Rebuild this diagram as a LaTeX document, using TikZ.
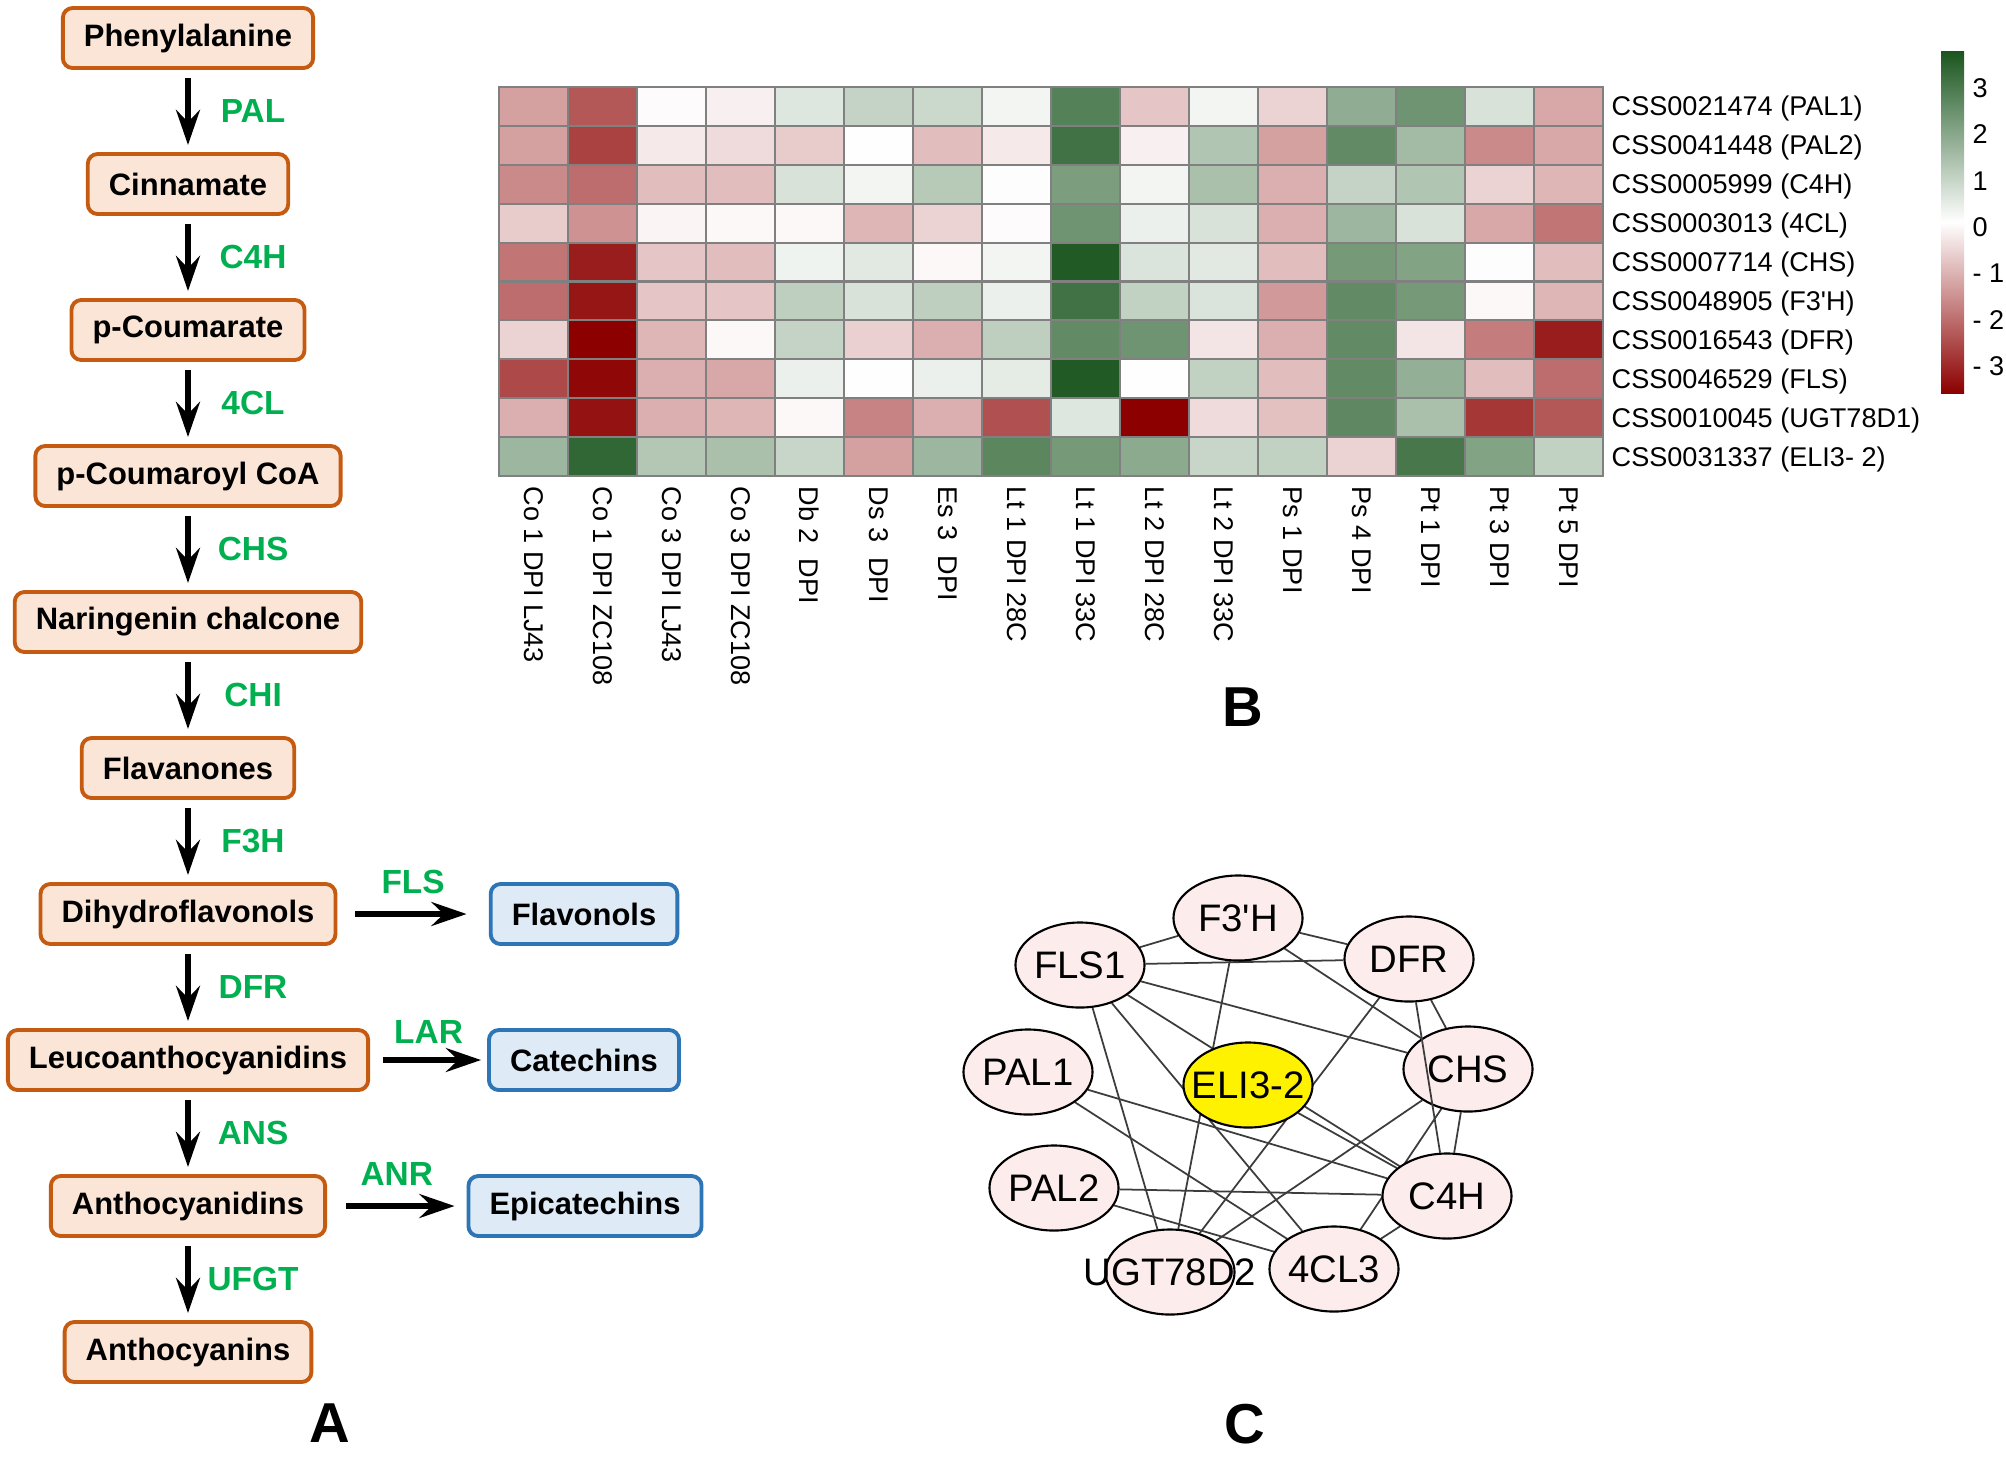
\documentclass[tikz,border=0pt]{standalone}
\usepackage{fontspec}
\setmainfont{Liberation Sans}
\usetikzlibrary{arrows.meta,shapes.geometric,backgrounds}
\definecolor{boxline}{RGB}{197,90,17}
\definecolor{boxfill}{RGB}{251,229,214}
\definecolor{endline}{RGB}{46,117,182}
\definecolor{endfill}{RGB}{222,235,247}
\definecolor{enzgreen}{RGB}{0,176,80}
\definecolor{hmgreen}{RGB}{26,85,30}
\definecolor{hmred}{RGB}{140,0,0}
\definecolor{gridgray}{RGB}{128,128,128}
\definecolor{genefill}{RGB}{252,236,236}
\definecolor{linkgray}{RGB}{60,60,60}

\begin{document}
\begin{tikzpicture}[x=0.01cm, y=-0.01cm,
    compound/.style={draw=boxline, fill=boxfill, line width=1.1pt, rounded corners=2.8pt,
        minimum height=0.6cm, inner xsep=6pt, font=\fontsize{8.8}{10}\selectfont\bfseries},
    product/.style={compound, draw=endline, fill=endfill},
    flow/.style={line width=1.6pt, -{Stealth[length=10pt, width=6.8pt, inset=3.5pt]}},
    enz/.style={text=enzgreen, inner sep=0pt, font=\fontsize{9.5}{11}\selectfont\bfseries},
    cell/.style={draw=gridgray, line width=0.6pt},
    heat/.style={inner sep=0pt, font=\fontsize{7.7}{9}\selectfont},
    gene/.style={ellipse, draw, line width=0.6pt, fill=genefill, inner sep=0pt,
        minimum width=1.29cm, minimum height=0.85cm, font=\fontsize{10.9}{12}\selectfont},
    link/.style={draw=linkgray, line width=0.5pt},
    panel/.style={font=\fontsize{16}{18}\selectfont\bfseries}]
\useasboundingbox (0,0) rectangle (2006,1456);
\begin{pgfonlayer}{background}
    \fill[white] (0,0) rectangle (2006,1456);
\end{pgfonlayer}

% Pathway
\foreach \name/\txt [count=\i from 0] in {phe/Phenylalanine, cin/Cinnamate, pcm/p-Coumarate,
        pcoa/p-Coumaroyl CoA, nar/Naringenin chalcone, flv/Flavanones, dhf/Dihydroflavonols,
        leu/Leucoanthocyanidins, acy/Anthocyanidins, acn/Anthocyanins}
    \node[compound] (\name) at (188, 38+146*\i) {\txt};
\foreach \a/\b/\enzyme in {phe/cin/PAL, cin/pcm/C4H, pcm/pcoa/4CL, pcoa/nar/CHS, nar/flv/CHI,
        flv/dhf/F3H, dhf/leu/DFR, leu/acy/ANS, acy/acn/UFGT}
    \draw[flow, shorten <=2.3pt, shorten >=2pt] (\a) -- node[enz, xshift=0.65cm] {\enzyme} (\b);

% Side branches
\node[product] (fol) at (584, 914) {Flavonols};
\node[product] (cat) at (584, 1060) {Catechins};
\node[product] (epi) at (585, 1206) {Epicatechins};
\draw[flow, shorten <=5.1pt, shorten >=6.3pt] (dhf) -- node[enz, above=5pt] {FLS} (fol);
\draw[flow, shorten <=3.6pt, shorten >=1.7pt] (leu) -- node[enz, above=4pt] {LAR} (cat);
\draw[flow, shorten <=5.5pt, shorten >=3.4pt] (acy) -- node[enz, above=5pt] {ANR} (epi);

% Heatmap
\foreach \row [count=\r] in {
        {-1.3,-2.3,-0.05,-0.2,0.5,0.9,0.8,0.2,2.6,-0.8,0.2,-0.6,1.7,2.2,0.6,-1.2},
        {-1.3,-2.6,-0.3,-0.5,-0.7,0.02,-0.9,-0.3,2.9,-0.2,1.2,-1.3,2.4,1.4,-1.6,-1.2},
        {-1.6,-2.0,-0.9,-0.9,0.6,0.2,1.1,0.05,2.0,0.2,1.3,-1.1,0.9,1.2,-0.6,-1.0},
        {-0.7,-1.5,-0.15,-0.1,-0.1,-1.0,-0.6,-0.05,2.2,0.3,0.6,-1.1,1.5,0.6,-1.2,-1.9},
        {-1.9,-3.1,-0.8,-0.9,0.25,0.45,-0.1,0.2,3.4,0.55,0.45,-0.9,2.1,1.9,0.05,-0.9},
        {-2.0,-3.2,-0.8,-0.8,1.0,0.6,1.0,0.3,2.9,0.95,0.55,-1.4,2.4,2.1,-0.1,-1.0},
        {-0.6,-3.5,-1.0,-0.1,0.9,-0.65,-1.1,1.0,2.4,2.2,-0.35,-1.1,2.4,-0.35,-1.8,-3.1},
        {-2.5,-3.4,-1.1,-1.2,0.3,0.03,0.3,0.4,3.4,0.02,0.95,-0.9,2.4,1.65,-0.9,-2.0},
        {-1.1,-3.25,-1.1,-1.0,-0.1,-1.7,-1.1,-2.4,0.5,-3.5,-0.5,-0.85,2.45,1.3,-2.75,-2.3},
        {1.5,3.15,1.15,1.3,0.85,-1.3,1.5,2.5,2.1,1.75,0.85,0.95,-0.6,2.8,1.9,0.95}} {
    \foreach \v [count=\c] in \row {
        \pgfmathsetmacro\pct{min(100,abs(\v)*100/3.5)}
        \ifdim\v pt<0pt \def\hue{hmred}\else\def\hue{hmgreen}\fi
        \draw[cell, fill=\hue!\pct!white] (430+69*\c, 48.1+38.9*\r) rectangle +(69,38.9);
    }
}
\foreach \lab [count=\r] in {CSS0021474 (PAL1), CSS0041448 (PAL2), CSS0005999 (C4H),
        CSS0003013 (4CL), CSS0007714 (CHS), CSS0048905 (F3\textquotesingle H),
        CSS0016543 (DFR), CSS0046529 (FLS), CSS0010045 (UGT78D1), CSS0031337 (ELI3- 2)}
    \node[heat, anchor=base west] (gene\r) at (1611, 77+38.9*\r) {\lab};
\foreach \lab [count=\c] in {Co 1 DPI LJ43, Co 1 DPI ZC108, Co 3 DPI LJ43, Co 3 DPI ZC108,
        Db 2\ \ DPI, Ds 3\ \ DPI, Es 3\ \ DPI, Lt 1 DPI 28C, Lt 1 DPI 33C, Lt 2 DPI 28C,
        Lt 2 DPI 33C, Ps 1 DPI, Ps 4 DPI, Pt 1 DPI, Pt 3 DPI, Pt 5 DPI}
    \node[heat, rotate=-90, anchor=west] (sample\c) at (464.5+69*\c, 486) {\lab};
% Colour key
\shade[top color=hmgreen, bottom color=hmred, middle color=white] (1941,51) rectangle (1964,393);
\foreach \t [count=\k] in {3, 2, 1, 0, - 1, - 2, - 3}
    \node[heat, anchor=base west] (key\k) at (1972, 51.2+46.3*\k) {\t};

% Network
\foreach \name/\txt/\px/\py in {f3h/F3\textquotesingle H/1238/918, fls/FLS1/1080/965,
        dfr/DFR/1409/959, pal1/PAL1/1028/1072, chs/CHS/1468/1069, pal2/PAL2/1054/1188,
        c4h/C4H/1447/1196, ugt/UGT78D2/1170/1272, cl/4CL3/1334/1269}
    \node[gene] (\name) at (\px,\py) {\makebox[0pt]{\txt}};
\node[gene, fill=yellow] (eli) at (1248,1085) {\makebox[0pt]{ELI3-2}};
\begin{pgfonlayer}{background}
\foreach \a/\b in {f3h/fls, f3h/dfr, f3h/chs, f3h/ugt, fls/dfr, fls/chs, fls/c4h, fls/cl, fls/ugt,
        dfr/chs, dfr/ugt, eli/c4h, pal1/c4h, pal1/cl, pal2/c4h, pal2/cl, chs/c4h, chs/ugt,
        chs/cl, c4h/cl}
    \draw[link] (\a) -- (\b);
\end{pgfonlayer}
\draw[link] (dfr) -- (c4h);

% Panel letters
\node[panel] (lblA) at (330,1423) {A};
\node[panel] (lblB) at (1243,707) {B};
\node[panel] (lblC) at (1245,1424) {C};
\end{tikzpicture}
\end{document}
